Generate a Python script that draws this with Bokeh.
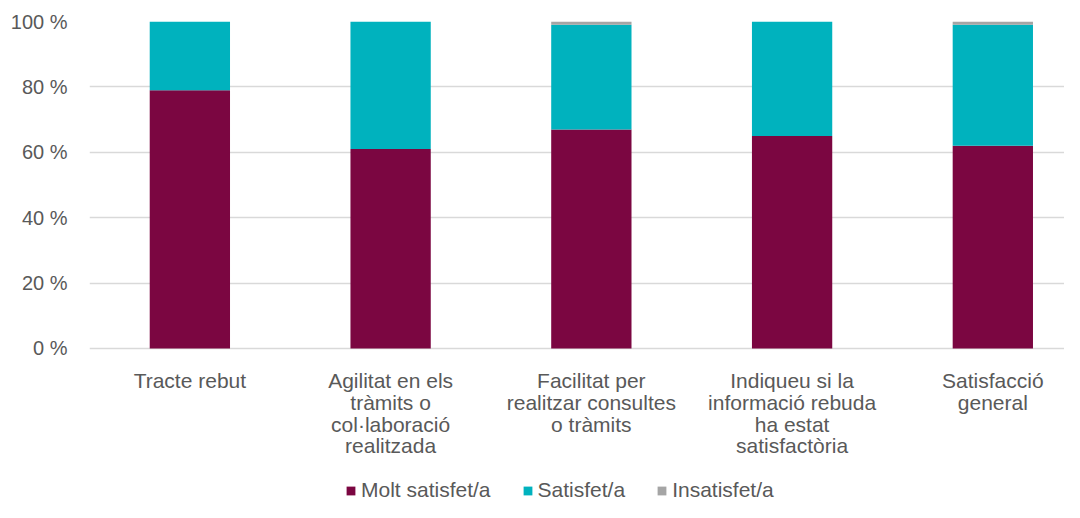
from bokeh.plotting import figure
from bokeh.models import FixedTicker, Legend, LegendItem, Range1d
from bokeh.core.properties import value
from bokeh.embed import file_html
from bokeh.resources import INLINE

categories = [
    "Tracte rebut",
    "Agilitat en els\ntràmits o\ncol·laboració\nrealitzada",
    "Facilitat per\nrealitzar consultes\no tràmits",
    "Indiqueu si la\ninformació rebuda\nha estat\nsatisfactòria",
    "Satisfacció\ngeneral",
]
molt_satisfet = [79, 61, 67, 65, 62]
satisfet = [21, 39, 32, 35, 37]
insatisfet = [0, 0, 1, 0, 1]
series_names = ["Molt satisfet/a", "Satisfet/a", "Insatisfet/a"]
colors = ["#7B0641", "#00B2BE", "#A5A5A5"]
y_ticks = [0, 20, 40, 60, 80, 100]

xs = [i + 0.5 for i in range(len(categories))]
data = dict(x=xs, molt=molt_satisfet, sat=satisfet, ins=insatisfet)

FONT = "Liberation Sans"
TXT = "#595959"
GRID = "#D9D9D9"

# frame: 975 x 481 px; 100 units = 327 px, so the bottom of the frame is at -47.1
p = figure(width=1064, height=502, output_backend="svg", toolbar_location=None,
           x_range=Range1d(0, 4.857), y_range=Range1d(-47.1, 100),
           x_axis_location=None,
           min_border_left=89, min_border_right=0, min_border_top=21, min_border_bottom=0)
p.outline_line_color = None

renderers = p.vbar_stack(["molt", "sat", "ins"], x="x", width=0.4, source=data,
                         color=colors, line_color=None)

# category labels under the bars
p.text(x=xs, y=[-6.4] * len(xs), text=categories, text_font=value(FONT),
       text_font_size="21px", text_color=TXT, text_align="center",
       text_baseline="top", text_line_height=0.94)

p.yaxis.ticker = FixedTicker(ticks=y_ticks)
p.yaxis.major_label_overrides = {t: f"{t} %" for t in y_ticks}
p.yaxis.major_tick_line_color = None
p.yaxis.minor_tick_line_color = None
p.yaxis.axis_line_color = None
p.yaxis.major_label_text_font = FONT
p.yaxis.major_label_text_font_size = "20px"
p.yaxis.major_label_text_color = TXT
p.yaxis.major_label_standoff = 16

p.xgrid.grid_line_color = None
p.ygrid.ticker = FixedTicker(ticks=y_ticks)
p.ygrid.grid_line_color = GRID
p.ygrid.grid_line_width = 1.5

legend = Legend(items=[LegendItem(label=n, renderers=[r]) for n, r in zip(series_names, renderers)],
                orientation="horizontal", location=(256, 0),
                label_text_font=FONT, label_text_font_size="21px", label_text_color=TXT,
                glyph_width=11, glyph_height=11, label_height=20, label_standoff=5, spacing=31,
                background_fill_alpha=0, border_line_color=None, padding=0, margin=0)
p.add_layout(legend)

open("out.html", "w").write(file_html(p, INLINE))
